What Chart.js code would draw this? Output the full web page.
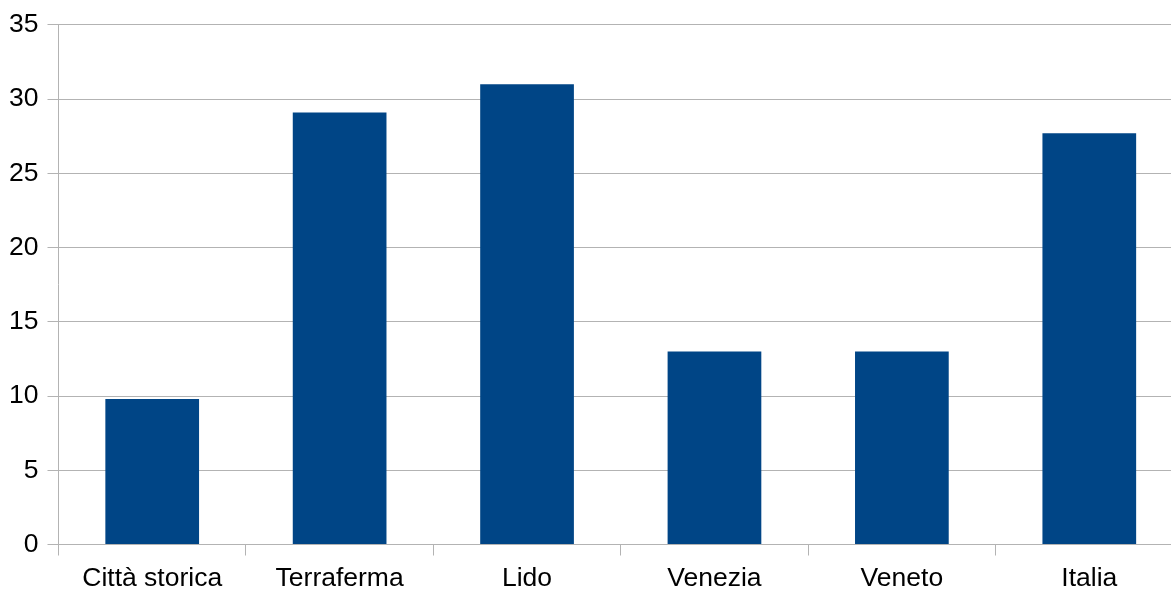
<!DOCTYPE html>
<html>
<head>
<meta charset="utf-8">
<script src="https://cdn.jsdelivr.net/npm/chart.js@4"></script>
<style>
html,body{margin:0;padding:0;background:#fff;overflow:hidden;}
#wrap{width:1171px;height:590px;overflow:hidden;position:relative;}
canvas{display:block;}
</style>
</head>
<body>
<div id="wrap"><canvas id="c" width="1183" height="590"></canvas></div>
<script>
const categories = ["Città storica", "Terraferma", "Lido", "Venezia", "Veneto", "Italia"];
const values = [9.8, 29.1, 31.0, 13.0, 13.0, 27.7];
const yTicks = [0, 5, 10, 15, 20, 25, 30, 35];

const ctx = document.getElementById('c').getContext('2d');
new Chart(ctx, {
  type: 'bar',
  data: {
    labels: categories,
    datasets: [{
      data: values,
      backgroundColor: '#004586',
      borderWidth: 0,
      barPercentage: 0.5,
      categoryPercentage: 1.0
    }]
  },
  options: {
    responsive: false,
    animation: false,
    devicePixelRatio: 1,
    layout: { padding: { top: 24, right: 0, left: 0, bottom: 0 } },
    plugins: { legend: { display: false }, tooltip: { enabled: false } },
    scales: {
      x: {
        offset: true,
        grid: { offset: true, drawOnChartArea: false, drawTicks: true, tickLength: 11, color: '#b3b3b3', lineWidth: 1 },
        border: { display: true, color: '#b3b3b3', width: 1 },
        ticks: { color: '#000', font: { family: 'Liberation Sans, Arial, sans-serif', size: 26.5 }, padding: 7, maxRotation: 0, autoSkip: false },
        afterFit: (s) => { s.height = 45.5; }
      },
      y: {
        min: 0, max: 35,
        afterBuildTicks: (s) => { s.ticks = yTicks.map(v => ({ value: v })); },
        grid: { drawOnChartArea: true, drawTicks: true, tickLength: 11, color: '#b3b3b3', lineWidth: 1 },
        border: { display: true, color: '#b3b3b3', width: 1 },
        ticks: { color: '#000', font: { family: 'Liberation Sans, Arial, sans-serif', size: 26.5 }, padding: 9 },
        afterFit: (s) => { s.width = 58.5; }
      }
    }
  }
});
</script>
</body>
</html>
